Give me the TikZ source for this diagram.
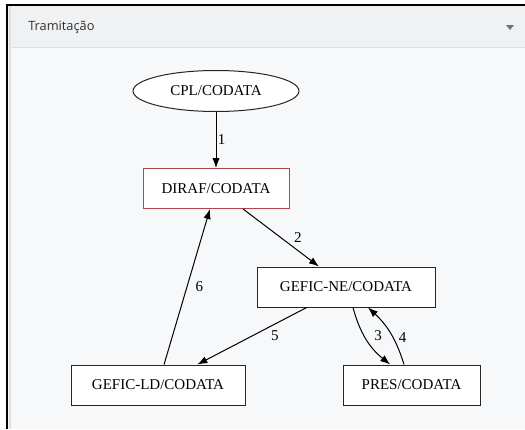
\documentclass[tikz,border=0pt]{standalone}
\usepackage{fontspec}
\setmainfont{Liberation Serif}
\newfontfamily\uifont{Open Sans}
\usetikzlibrary{arrows.meta,positioning,calc,shapes.geometric}
\definecolor{panelbg}{HTML}{F7F8FA}
\definecolor{headbg}{HTML}{F0F1F3}
\definecolor{headline}{HTML}{DCDFE3}
\definecolor{headtext}{HTML}{333333}
\definecolor{dirafred}{HTML}{B0464A}
\begin{document}
\begin{tikzpicture}[x=0.75pt,y=0.75pt,font=\fontsize{11.25}{13}\selectfont,>={Latex[length=7.5pt,width=5.5pt]}]
\tikzset{box/.style={draw=black!85,fill=white,line width=0.75pt,minimum height=30pt,inner sep=0pt}, flow/.style={->,line width=0.75pt}, lbl/.style={inner sep=1pt}}
\useasboundingbox (0,0) rectangle (525,-429);
% panel frame and header
\fill[white] (0,0) rectangle (525,-429);
\fill[panelbg] (7,-5) rectangle (525,-429);
\fill[headbg] (7,-5) rectangle (525,-47);
\draw[headline,line width=0.75pt] (10,-47) -- (525,-47);
\draw[black!12,line width=1.5pt] (9.5,-6) -- (9.5,-429);
\draw[black,line width=1.5pt] (6.5,-429) -- (6.5,-4.5) -- (525,-4.5);
\node[font=\uifont\fontsize{9.6}{12}\selectfont,text=headtext,anchor=west,inner sep=0pt] (title) at (28,-27) {Tramitação};
\fill[black!55] (506,-25) -- (514,-25) -- (510,-30) -- cycle;
% units
\node[ellipse,draw=black!85,fill=white,line width=0.75pt,minimum width=124.5pt,minimum height=30.75pt,inner sep=0pt] (cpl) at (216,-91) {CPL/CODATA};
\node[box,draw=dirafred,minimum width=109.5pt] (diraf) at (216,-188.5) {DIRAF/CODATA};
\node[box,minimum width=133.5pt] (ne) at (346,-287) {GEFIC-NE/CODATA};
\node[box,minimum width=130.5pt] (ld) at (158,-385) {GEFIC-LD/CODATA};
\node[box,minimum width=102.75pt] (pres) at (411.5,-385) {PRES/CODATA};
% steps of the flow
\draw[flow] (cpl) -- node[lbl,right=0pt] {1} (diraf);
\draw[flow] (diraf) -- node[lbl,right=8.5pt] {2} (ne);
\draw[flow] ([xshift=5.25pt]ne.south) to[bend right=18] node[lbl,right=4.5pt,yshift=3pt] {3} ([xshift=-16pt]pres.north);
\draw[flow] ([xshift=-5.6pt]pres.north) to[bend right=15] node[lbl,right=5pt,yshift=-3pt] {4} ([xshift=16.5pt]ne.south);
\draw[flow] (ne) -- node[lbl,right=13pt] {5} (ld);
\draw[flow] (ld) -- node[lbl,right=5pt] {6} (diraf);
\end{tikzpicture}
\end{document}
